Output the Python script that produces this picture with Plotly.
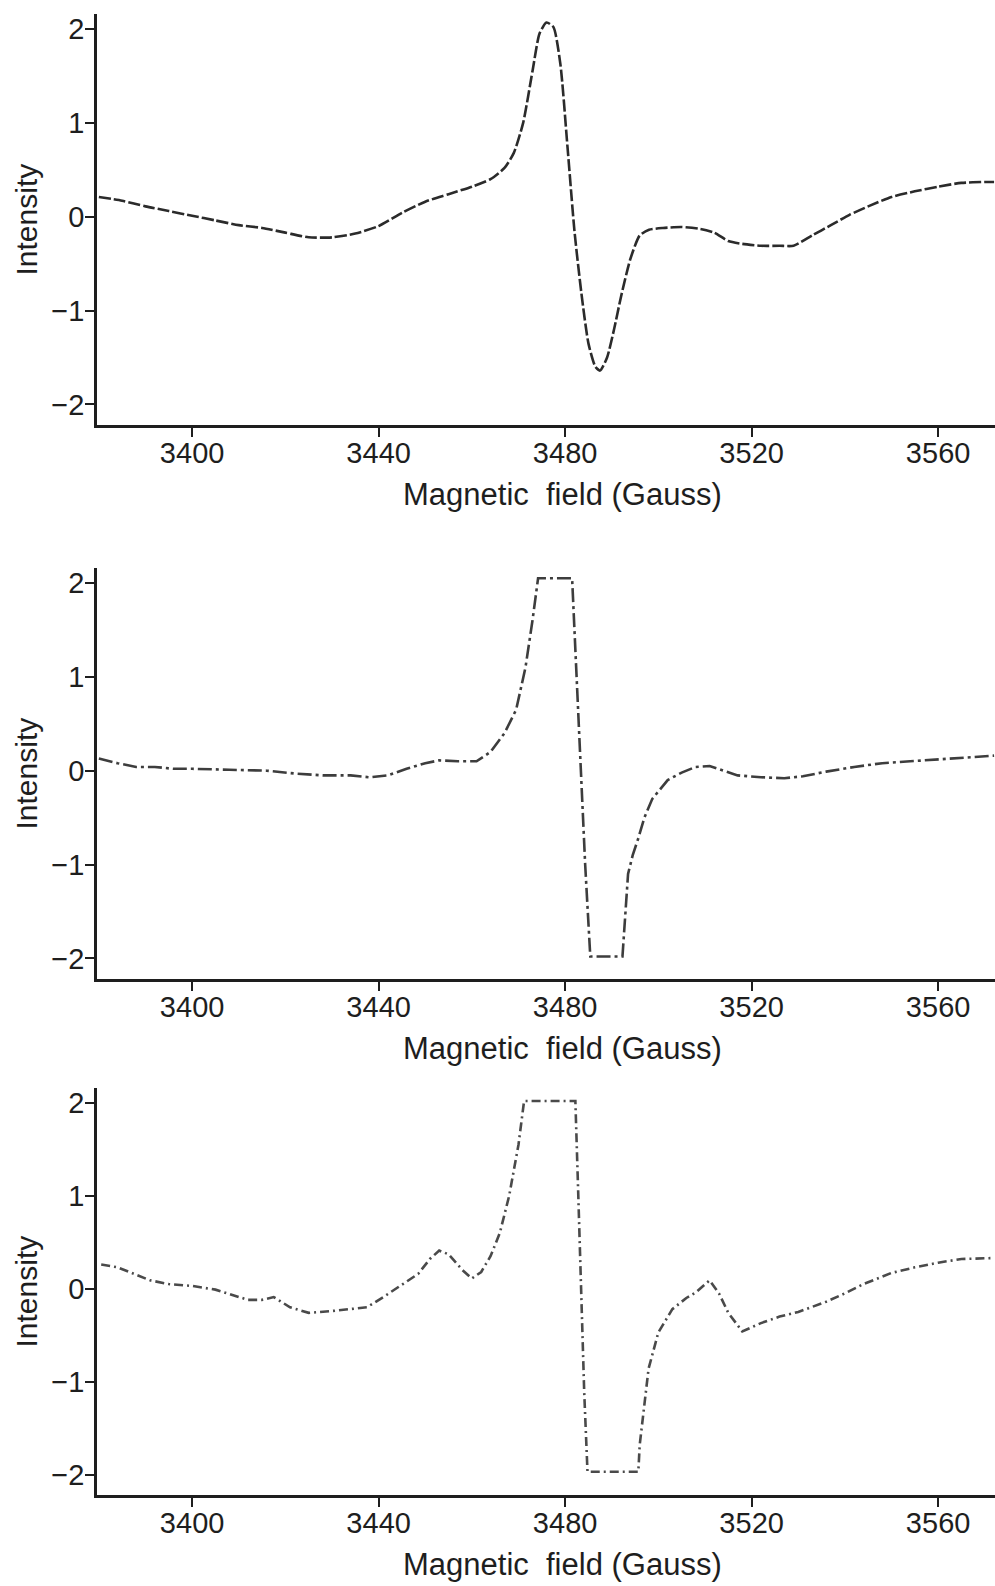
import plotly.graph_objects as go

# Field axis (Gauss) and intensity for each of the three EPR spectra
field_a = [3380, 3385, 3390, 3395, 3400, 3405, 3410, 3415, 3420, 3425, 3430, 3435,
           3440, 3445, 3450, 3455, 3460, 3464, 3467, 3469, 3471, 3473, 3474.5, 3476,
           3477.5, 3479, 3480.5, 3482, 3483.5, 3485, 3486.5, 3487.5, 3489, 3490.5,
           3492, 3494, 3496, 3498, 3501, 3505, 3509, 3512, 3515, 3518, 3522, 3526,
           3529, 3533, 3537, 3541, 3545, 3550, 3555, 3560, 3565, 3570, 3572]
intensity_a = [0.21, 0.17, 0.11, 0.06, 0.01, -0.04, -0.09, -0.12, -0.17, -0.22, -0.22, -0.18,
               -0.10, 0.04, 0.16, 0.24, 0.32, 0.40, 0.52, 0.68, 1.00, 1.55, 1.95, 2.07,
               2.02, 1.62, 0.75, -0.15, -0.82, -1.35, -1.60, -1.64, -1.50, -1.20,
               -0.85, -0.45, -0.20, -0.14, -0.12, -0.11, -0.13, -0.17, -0.26, -0.29, -0.31, -0.31,
               -0.31, -0.20, -0.09, 0.02, 0.11, 0.21, 0.27, 0.32, 0.36, 0.37, 0.37]

field_b = [3380, 3384, 3388, 3392, 3396, 3400, 3408, 3416, 3422, 3428, 3434, 3438,
           3442, 3446, 3450, 3453, 3457, 3461, 3464, 3467, 3469.5, 3471.5, 3473, 3474.2,
           3481.5, 3482.3, 3483.3, 3484.3, 3485.4, 3492.3, 3493.5, 3494.5, 3495.7, 3497,
           3498.7, 3502, 3505, 3508, 3511, 3514, 3517, 3522, 3527, 3531, 3536, 3542,
           3548, 3554, 3560, 3566, 3572]
intensity_b = [0.13, 0.08, 0.04, 0.04, 0.02, 0.02, 0.01, 0.00, -0.03, -0.05, -0.05, -0.07,
               -0.05, 0.02, 0.08, 0.11, 0.10, 0.10, 0.20, 0.40, 0.65, 1.10, 1.60, 2.05,
               2.05, 1.20, 0.10, -1.00, -1.98, -1.98, -1.10, -0.90, -0.72, -0.50,
               -0.30, -0.10, -0.02, 0.04, 0.05, 0.00, -0.05, -0.07, -0.08, -0.06, -0.01, 0.04,
               0.08, 0.10, 0.12, 0.14, 0.16]

field_c = [3380.5, 3384, 3388, 3391, 3395, 3400, 3405, 3409, 3412, 3415, 3417.5, 3421,
           3425, 3430, 3434, 3437.5, 3441, 3445, 3448.5, 3451, 3453, 3455, 3458, 3460,
           3462, 3464, 3466, 3468, 3470, 3471.2, 3482.2, 3482.8, 3483.7, 3484.1, 3484.8,
           3495.7, 3496, 3497.9, 3500, 3503, 3506, 3508, 3511, 3513, 3515, 3518, 3522,
           3526, 3530, 3536, 3540, 3544, 3550, 3555, 3560, 3565, 3572]
intensity_c = [0.26, 0.23, 0.15, 0.09, 0.05, 0.03, -0.01, -0.07, -0.12, -0.12, -0.09, -0.20,
               -0.26, -0.24, -0.22, -0.20, -0.09, 0.04, 0.16, 0.32, 0.41, 0.37, 0.20, 0.11,
               0.18, 0.35, 0.60, 1.00, 1.55, 2.02, 2.02, 1.05, -0.50, -1.12, -1.97,
               -1.97, -1.68, -0.86, -0.47, -0.22, -0.10, -0.04, 0.09, -0.05, -0.26, -0.46, -0.37,
               -0.30, -0.25, -0.14, -0.05, 0.05, 0.17, 0.23, 0.28, 0.32, 0.33]

field_ticks = [3400, 3440, 3480, 3520, 3560]
intensity_ticks = [-2, -1, 0, 1, 2]

W, H = 995, 1586
FONT = "Liberation Sans, Arial, sans-serif"
INK = "#1e1e1e"

panels = [
    # (x, y, line colour, dash, line shape, plot top px, plot bottom px)
    (field_a, intensity_a, "#2b2b2b", "12px,3px", "spline", 14, 425),
    (field_b, intensity_b, "#3d3d3d", "14px,4px,3px,4px", "linear", 568, 979),
    (field_c, intensity_c, "#4a4a4a", "9px,4px,2px,4px", "linear", 1088, 1495),
]

fig = go.Figure()
layout = dict(
    width=W, height=H,
    margin=dict(l=0, r=0, t=0, b=0),
    paper_bgcolor="white", plot_bgcolor="white",
    showlegend=False,
    annotations=[],
)

left_px = 97
for i, (xs, ys, col, dash, shape, top, bottom) in enumerate(panels, start=1):
    suffix = "" if i == 1 else str(i)
    line = dict(color=col, width=2.6, dash=dash, shape=shape)
    if shape == "spline":
        line["smoothing"] = 0.6
    fig.add_trace(go.Scatter(
        x=xs, y=ys, mode="lines", line=line,
        xaxis="x" + suffix, yaxis="y" + suffix,
    ))
    ydom = [1 - bottom / H, 1 - top / H]
    axis_common = dict(
        showline=True, linewidth=2.5, linecolor=INK,
        ticks="outside", ticklen=9, tickwidth=2, tickcolor=INK,
        showgrid=False, zeroline=False, mirror=False,
        tickfont=dict(family=FONT, size=29, color=INK),
    )
    layout["xaxis" + suffix] = dict(
        axis_common, domain=[left_px / W, 1.0], range=[3379.6, 3572.2],
        tickvals=field_ticks, anchor="y" + suffix, ticklabelstandoff=-9,
    )
    layout["yaxis" + suffix] = dict(
        axis_common, domain=ydom, range=[-2.22, 2.16],
        tickvals=intensity_ticks, anchor="x" + suffix, ticklabelstandoff=-5,
    )
    # axis titles
    layout["annotations"].append(dict(
        text="Magnetic  field (Gauss)", xref="paper", yref="paper",
        x=562 / W, y=1 - (bottom + 69) / H, xanchor="center", yanchor="middle",
        showarrow=False, font=dict(family=FONT, size=31, color=INK),
    ))
    layout["annotations"].append(dict(
        text="Intensity", xref="paper", yref="paper", textangle=-90,
        x=26 / W, y=1 - (top + bottom) / 2 / H, xanchor="center", yanchor="middle",
        showarrow=False, font=dict(family=FONT, size=30, color=INK),
    ))

fig.update_layout(**layout)
fig.write_html("out.html")
